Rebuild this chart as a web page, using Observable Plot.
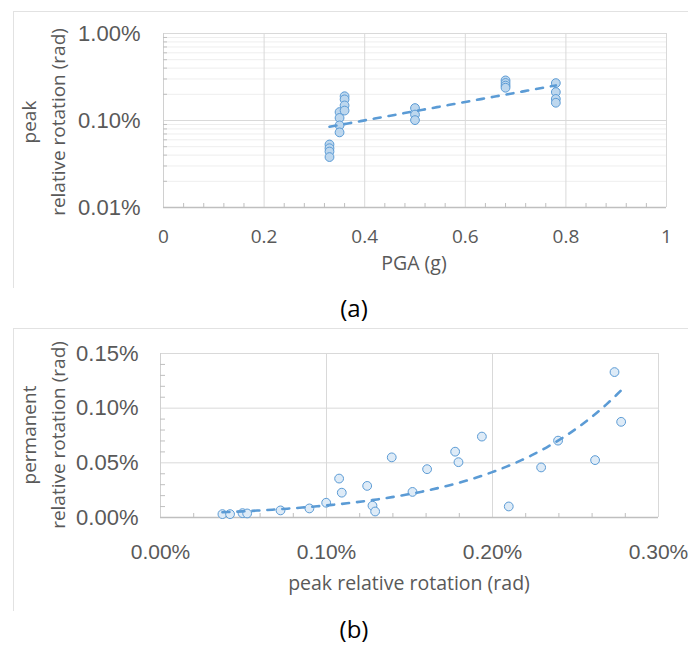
<!DOCTYPE html>
<html>
<head>
<meta charset="utf-8">
<script src="https://cdn.jsdelivr.net/npm/d3@7"></script>
<script src="https://cdn.jsdelivr.net/npm/@observablehq/plot@0.6"></script>
<style>
html, body { margin: 0; padding: 0; background: #fff; }
#wrap { position: relative; width: 688px; height: 649px; overflow: hidden; color: #595959; }
.frame { position: absolute; border-top: 1px solid #e2e2e2; border-left: 1px solid #e2e2e2; }
.panel { position: absolute; left: 0; }
.panel svg { overflow: visible; background: transparent; }
#pa g[aria-label="x-axis tick label"] { font-family: "Open Sans", sans-serif; font-size: 19px; }
#pa g[aria-label="y-axis tick label"],
#pb g[aria-label="y-axis tick label"] { font-family: "Liberation Sans", Arial, sans-serif; font-size: 22px; }
#pb g[aria-label="x-axis tick label"] { font-family: "Liberation Sans", Arial, sans-serif; font-size: 21px; }
.xtitle { position: absolute; font-family: "Open Sans", sans-serif; font-size: 19.5px; line-height: 20px; text-align: center; white-space: nowrap; }
.cap { position: absolute; font-family: "Open Sans", sans-serif; font-size: 24px; line-height: 24px; text-align: center; white-space: nowrap; color: #000; }
.ytitle { position: absolute; width: 260px; height: 58px; font-family: "Open Sans", sans-serif; font-size: 19px; line-height: 29px; text-align: center; white-space: nowrap; transform: rotate(-90deg); transform-origin: 50% 50%; }
</style>
</head>
<body>
<div id="wrap">
  <div class="frame" style="left:13px; top:11px; width:700px; height:276px;"></div>
  <div class="frame" style="left:13px; top:328px; width:700px; height:282px;"></div>
  <div class="panel" id="pa" style="top:0px;"></div>
  <div class="panel" id="pb" style="top:320px;"></div>
  <div class="ytitle" style="left:-86px; top:93px;">peak<br>relative rotation (rad)</div>
  <div class="ytitle" style="left:-86px; top:406px;">permanent<br>relative rotation (rad)</div>
  <div class="xtitle" style="left:264px; width:300px; top:253px;">PGA (g)</div>
  <div class="xtitle" style="left:259px; width:300px; top:573px;">peak relative rotation (rad)</div>
  <div class="cap" style="left:304px; width:100px; top:296px;">(a)</div>
  <div class="cap" style="left:304px; width:100px; top:617px;">(b)</div>
</div>
<script>
// ---------- Panel (a): peak relative rotation (%) vs PGA (g) ----------
const aPga  = [0.33, 0.33, 0.33, 0.33,
               0.35, 0.35, 0.35, 0.35,
               0.36, 0.36, 0.36, 0.36,
               0.50, 0.50, 0.50,
               0.68, 0.68, 0.68, 0.68,
               0.78, 0.78, 0.78, 0.78];
const aPeak = [0.053, 0.048, 0.044, 0.038,
               0.125, 0.107, 0.088, 0.073,
               0.190, 0.175, 0.149, 0.130,
               0.139, 0.117, 0.101,
               0.289, 0.270, 0.252, 0.238,
               0.269, 0.212, 0.177, 0.160];
const aTicksX = [0, 0.2, 0.4, 0.6, 0.8, 1];
const aTickLabelsX = ["0", "0.2", "0.4", "0.6", "0.8", "1"];
const aTicksY = [0.01, 0.1, 1];
const aMinorX = [0.04, 0.08, 0.12, 0.16, 0.24, 0.28, 0.32, 0.36, 0.44, 0.48, 0.52, 0.56,
                 0.64, 0.68, 0.72, 0.76, 0.84, 0.88, 0.92, 0.96];
const aMinorY = [0.02, 0.03, 0.04, 0.05, 0.06, 0.07, 0.08, 0.09,
                 0.2, 0.3, 0.4, 0.5, 0.6, 0.7, 0.8, 0.9];

// ---------- Panel (b): permanent vs peak relative rotation (%) ----------
const bPeak = [0.0373, 0.0419, 0.0494, 0.0522, 0.0723, 0.0897, 0.0998, 0.1076,
               0.1092, 0.1245, 0.1277, 0.1293, 0.1393, 0.1518, 0.1606, 0.1775,
               0.1795, 0.1936, 0.2098, 0.2293, 0.2395, 0.2618, 0.2735, 0.2775];
const bPerm = [0.0031, 0.0031, 0.0040, 0.0037, 0.0065, 0.0083, 0.0135, 0.0356,
               0.0227, 0.0289, 0.0108, 0.0055, 0.0550, 0.0234, 0.0442, 0.0602,
               0.0506, 0.0740, 0.0101, 0.0458, 0.0703, 0.0525, 0.1330, 0.0875];
const bTicksX = [0, 0.1, 0.2, 0.3];
const bTicksY = [0, 0.05, 0.1, 0.15];
const bMinorX = [0.02, 0.04, 0.06, 0.08, 0.12, 0.14, 0.16, 0.18, 0.22, 0.24, 0.26, 0.28];
const bMinorY = [0.01, 0.02, 0.03, 0.04, 0.06, 0.07, 0.08, 0.09, 0.11, 0.12, 0.13, 0.14];

const BLUE = "#5b9bd5";
const pct = d => d.toFixed(2) + "%";

// Exponential trendline (least squares on ln y), as a spreadsheet trendline does
function expTrend(xs, ys, n = 80) {
  const ly = ys.map(Math.log);
  const mx = d3.mean(xs), my = d3.mean(ly);
  const b = d3.sum(xs, (x, i) => (x - mx) * (ly[i] - my)) / d3.sum(xs, x => (x - mx) ** 2);
  const a = Math.exp(my - b * mx);
  const [x0, x1] = d3.extent(xs);
  return d3.range(n + 1).map(i => {
    const x = x0 + (x1 - x0) * i / n;
    return {x, y: a * Math.exp(b * x)};
  });
}

const aData = aPga.map((x, i) => ({x, y: aPeak[i]}));
const bData = bPeak.map((x, i) => ({x, y: bPerm[i]}));
const aTrend = expTrend(aPga, aPeak);
const bTrend = expTrend(bPeak, bPerm);

// Panel (a)
const aW = 688, aH = 290, aML = 163, aMR = 22, aMT = 33, aMB = 83;
const aPlot = Plot.plot({
  width: aW, height: aH,
  marginLeft: aML, marginRight: aMR, marginTop: aMT, marginBottom: aMB,
  style: {color: "#595959", background: "transparent", overflow: "visible"},
  x: {domain: [0, 1]},
  y: {type: "log", domain: [0.01, 1]},
  marks: [
    Plot.ruleY(aMinorY, {stroke: "#eeeeee"}),
    Plot.ruleY(aTicksY, {stroke: "#d9d9d9"}),
    Plot.ruleX(aTicksX.slice(1), {stroke: "#d9d9d9"}),
    Plot.ruleX([0], {stroke: "#d0d0d0"}),
    Plot.ruleY([0.01], {stroke: "#bfbfbf", strokeWidth: 1.5}),
    Plot.ruleX(aMinorX, {stroke: "#bfbfbf", insetTop: (aH - aMT - aMB) - 4}),
    Plot.ruleY(aMinorY, {stroke: "#bfbfbf", insetRight: (aW - aML - aMR) - 4}),
    Plot.axisX({ticks: aTicksX, tickSize: 0, tickPadding: 22, label: null,
                tickFormat: d => aTickLabelsX[aTicksX.indexOf(d)]}),
    Plot.axisY({ticks: aTicksY, tickSize: 0, tickPadding: 23, label: null, tickFormat: pct}),
    Plot.dot(aData, {x: "x", y: "y", r: 4.4, fill: "#bdd7ee", stroke: BLUE, strokeWidth: 1}),
    Plot.line(aTrend, {x: "x", y: "y", stroke: BLUE, strokeWidth: 2.6,
                       strokeDasharray: "7,8", strokeLinecap: "round"})
  ]
});
document.getElementById("pa").appendChild(aPlot);

// Panel (b)
const bW = 688, bH = 290, bML = 160, bMR = 30, bMT = 33, bMB = 93;
const bPlot = Plot.plot({
  width: bW, height: bH,
  marginLeft: bML, marginRight: bMR, marginTop: bMT, marginBottom: bMB,
  style: {color: "#595959", background: "transparent", overflow: "visible"},
  x: {domain: [0, 0.3]},
  y: {domain: [0, 0.15]},
  marks: [
    Plot.ruleY(bTicksY.slice(1), {stroke: "#d9d9d9"}),
    Plot.ruleX(bTicksX.slice(1), {stroke: "#d9d9d9"}),
    Plot.ruleX([0], {stroke: "#d0d0d0"}),
    Plot.ruleY([0], {stroke: "#bfbfbf", strokeWidth: 1.5}),
    Plot.ruleX(bMinorX, {stroke: "#bfbfbf", insetTop: (bH - bMT - bMB) - 4}),
    Plot.ruleY(bMinorY, {stroke: "#bfbfbf", insetRight: (bW - bML - bMR) - 5}),
    Plot.axisX({ticks: bTicksX, tickSize: 0, tickPadding: 27, label: null, tickFormat: pct}),
    Plot.axisY({ticks: bTicksY, tickSize: 0, tickPadding: 22, label: null, tickFormat: pct}),
    Plot.dot(bData, {x: "x", y: "y", r: 4.4, fill: "#deebf7", stroke: BLUE, strokeWidth: 1}),
    Plot.line(bTrend, {x: "x", y: "y", stroke: BLUE, strokeWidth: 2.6,
                       strokeDasharray: "7,8", strokeLinecap: "round"})
  ]
});
document.getElementById("pb").appendChild(bPlot);
</script>
</body>
</html>
